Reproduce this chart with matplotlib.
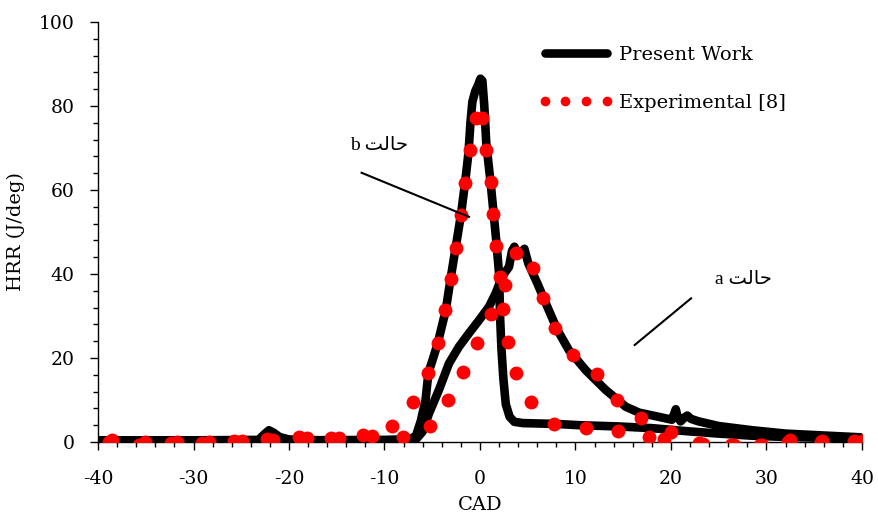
import matplotlib
matplotlib.use("Agg")
import matplotlib.pyplot as plt
from matplotlib.lines import Line2D
from matplotlib.ticker import MultipleLocator

plt.rcParams['font.family'] = ['DejaVu Serif', 'DejaVu Sans']
plt.rcParams['axes.unicode_minus'] = False

# Present work, case b (narrow peak)
cad_b = [-40, -30, -20, -10, -8, -7.2, -6.7, -6.2, -5.7, -5.4, -4.9, -4.4,
         -4.0, -3.6, -3.07, -2.55, -2.0, -1.57, -1.2, -1.0, -0.8, -0.5, -0.2,
         0.05, 0.25, 0.45, 0.66, 1.1, 1.4, 1.7, 2.0, 2.1, 2.25, 2.45, 2.7, 3.1,
         3.6, 4.5, 8, 10.4, 14.5, 18, 21.5, 25, 28.5, 32, 36, 40]
hrr_b = [0.4, 0.4, 0.4, 0.5, 0.6, 0.8, 1.5, 5, 10, 16.5, 20, 23.7, 27.5,
         31.2, 39, 46.3, 54, 61.6, 69, 76, 81, 83.5, 85, 86.5, 86, 80, 71, 62,
         55, 48, 40, 30, 22, 15, 9, 6, 4.8, 4.5, 4.3, 4.0, 3.7, 3.3, 2.6, 2.0,
         1.5, 1.2, 1.0, 0.8]

# Present work, case a (broad peak)
cad_a = [-40, -30, -23.2, -22.6, -22.1, -21.6, -21, -20, -17, -10, -7.5, -6.6,
         -6.0, -5.34, -4.3, -3.25, -2.2, -1.15, -0.1, 0.94, 1.64, 2.33, 3.04,
         3.35, 3.6, 4.05, 4.65, 5.06, 6.0, 7.05, 8.1, 9.3, 11.07, 13.16, 15.26,
         16.65, 18.7, 20.1, 20.3, 20.5, 20.7, 21.0, 21.4, 21.7, 22.1, 22.9, 25,
         28.5, 32, 35.5, 40]
hrr_a = [0.4, 0.4, 0.5, 1.8, 2.8, 2.2, 1.2, 0.6, 0.4, 0.4, 0.5, 0.9, 2.5, 6.8,
         12.4, 18.7, 22.7, 25.9, 29, 32.2, 35.4, 39.4, 41.7, 45.5, 46.5, 44.5,
         46, 42.5, 37.8, 32.2, 26.7, 21.9, 17.1, 12.4, 8.4, 7.0, 6.0, 5.3, 6.5,
         7.8, 6.0, 4.9, 5.8, 6.3, 5.5, 4.9, 3.8, 2.8, 2.0, 1.6, 1.1]

# Experimental [8], case a
exp_a_cad = [-38.5, -35.1, -31.7, -28.4, -24.9, -21.7, -18.1, -14.8, -11.3,
             -8.1, -5.2, -3.3, -1.75, -0.35, 1.18, 2.6, 3.75, 5.55, 6.6, 7.9,
             9.7, 12.3, 14.3, 16.9, 20.0, 23.3, 26.6, 29.5, 32.5, 35.8, 39.2]
exp_a_hrr = [0.5, 0.1, 0.1, 0.1, 0.3, 0.5, 0.9, 0.9, 1.4, 1.1, 3.8, 9.9, 16.7,
             23.6, 30.5, 37.5, 45, 41.5, 34.2, 27.1, 20.6, 16.1, 10, 5.7, 2.4,
             -0.4, -0.7, -0.6, 0.4, 0.3, 0.3]

# Experimental [8], case b
exp_b_cad = [-38.85, -35.7, -32.4, -29.1, -25.8, -22.3, -18.95, -15.6, -12.2,
             -9.2, -7.0, -5.4, -4.36, -3.66, -3.07, -2.55, -2.0, -1.57, -1.05,
             -0.45, 0.24, 0.66, 1.12, 1.36, 1.7, 2.06, 2.4, 2.93, 3.8, 5.3, 7.75,
             11.1, 14.4, 17.7, 19.3, 22.9, 26.3, 29.3, 32.3, 35.7, 40.2]
exp_b_hrr = [0.1, -0.7, -0.3, -0.3, 0.3, 0.6, 1.1, 0.9, 1.7, 3.9, 9.6, 16.5,
             23.6, 31.4, 38.8, 46.3, 54, 61.6, 69.5, 77.1, 77.1, 69.5, 62, 54.4,
             46.7, 39.2, 31.6, 23.9, 16.5, 9.6, 4.4, 3.4, 2.7, 1.2, 0.6, -0.3,
             -0.6, -0.7, 0.1, 0.1, 0.4]

x_ticks = [-40, -30, -20, -10, 0, 10, 20, 30, 40]
y_ticks = [0, 20, 40, 60, 80, 100]

# Case labels (Arabic glyphs in presentation forms, visual order)
label_b = "b \uFE96\uFEDF\uFE8E\uFEA3"
label_a = "a \uFE96\uFEDF\uFE8E\uFEA3"

fig = plt.figure(figsize=(8.79, 5.17), dpi=100)
ax = fig.add_axes([98 / 879, 75 / 517, 764 / 879, 420 / 517])

line_kw = dict(color='black', lw=6.2, solid_joinstyle='round',
               solid_capstyle='round', zorder=2)
ax.plot(cad_b, hrr_b, **line_kw)
ax.plot(cad_a, hrr_a, **line_kw)

dot_kw = dict(ls='none', marker='o', ms=10, color='#ff0000', mec='none', zorder=3)
ax.plot(exp_a_cad, exp_a_hrr, **dot_kw)
ax.plot(exp_b_cad, exp_b_hrr, **dot_kw)

ax.set_xlim(-40, 40)
ax.set_ylim(0, 100)
ax.set_xticks(x_ticks)
ax.set_yticks(y_ticks)
ax.xaxis.set_minor_locator(MultipleLocator(2))
ax.yaxis.set_minor_locator(MultipleLocator(4))
for s in ('top', 'right'):
    ax.spines[s].set_visible(False)
for s in ('left', 'bottom'):
    ax.spines[s].set_linewidth(1.0)
ax.tick_params(which='major', direction='out', length=5.8, width=1.0,
               labelsize=13.5, color='black')
ax.tick_params(which='minor', direction='out', length=3.6, width=1.0)
ax.tick_params(axis='x', which='major', pad=14)
ax.tick_params(axis='y', which='major', pad=11)

ax.set_xlabel('CAD', fontsize=14, labelpad=6)
ax.set_ylabel('HRR (J/deg)', fontsize=14, labelpad=10)

# Callouts
case_font = ['Liberation Serif', 'DejaVu Sans']
ax.plot([-12.4, -1.15], [64.1, 53.6], color='black', lw=1.5, zorder=4)
ax.text(-10.6, 70.5, label_b, fontsize=14, ha='center', va='center',
        family=case_font)
ax.plot([16.2, 22.1], [23.1, 34.2], color='black', lw=1.5, zorder=4)
ax.text(27.6, 38.8, label_a, fontsize=14, ha='center', va='center',
        family=case_font)

handles = [Line2D([], [], color='black', lw=6.2, solid_capstyle='round'),
           Line2D([], [], ls='none', marker='o', ms=7, color='#ff0000', mec='none')]
fig.legend(handles, ['Present Work', 'Experimental [8]'], loc='upper left',
           bbox_to_anchor=(531 / 879, 1 - 38 / 517), frameon=False,
           fontsize=14, numpoints=4, handlelength=3.8, handletextpad=0.35,
           labelspacing=1.56, borderaxespad=0)

fig.savefig('out.png', dpi=100)
